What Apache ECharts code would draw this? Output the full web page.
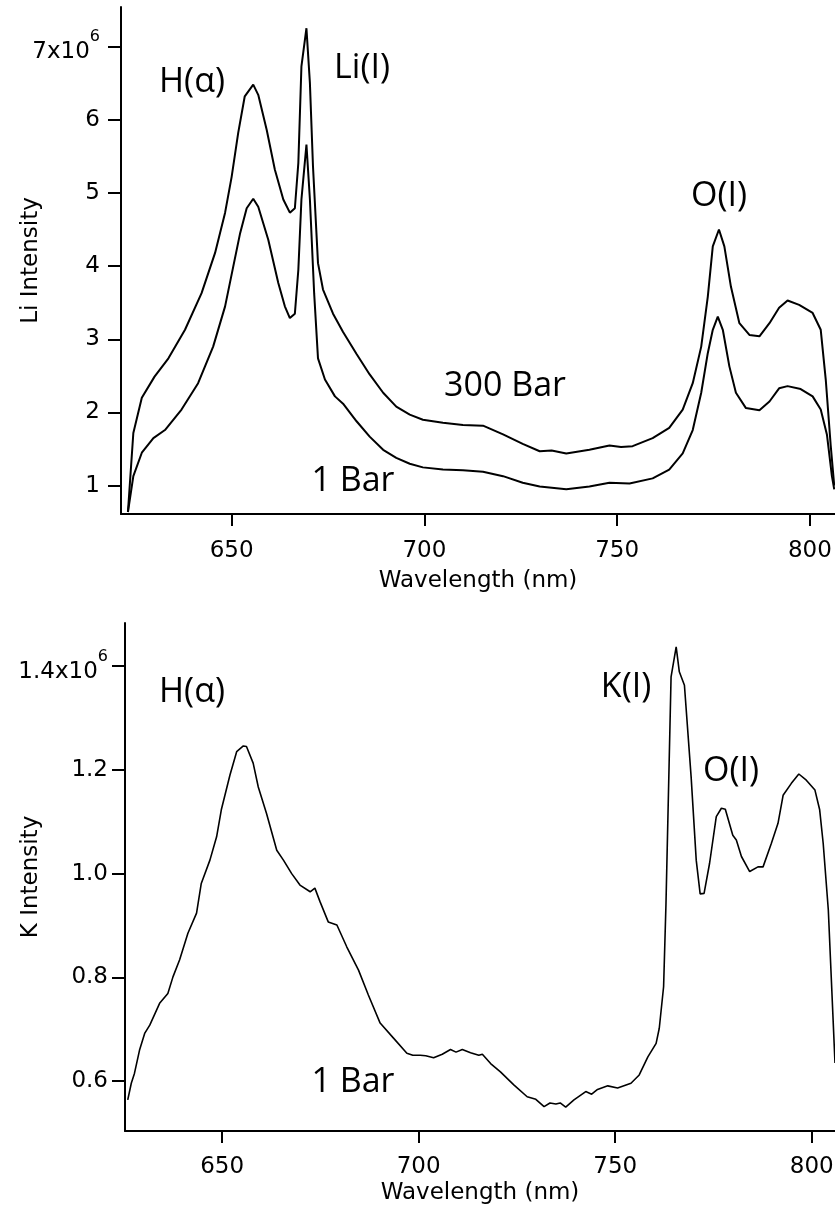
<!DOCTYPE html>
<html>
<head>
<meta charset="utf-8">
<script src="https://cdn.jsdelivr.net/npm/echarts@6/dist/echarts.min.js"></script>
<style>html,body{margin:0;padding:0;background:#fff}#c{width:835px;height:1207px}</style>
</head>
<body>
<div id="c"></div>
<script>
// ---- Top panel: Li intensity (units of 10^6) ----
var li300Wl = [623.1,624.5,626.7,630.0,633.6,637.9,642.2,645.7,648.3,650.0,651.7,653.4,655.6,656.9,659.1,661.2,663.4,665.1,666.4,667.3,668.1,669.4,670.3,671.1,672.4,673.7,676.3,678.9,682.4,685.8,689.3,692.7,696.2,699.6,704.8,710.0,715.2,720.4,725.5,729.9,733.0,736.8,742.8,748.0,751.0,754.0,759.2,763.5,767.0,769.6,771.8,773.5,774.8,776.4,777.8,779.5,781.7,784.3,786.9,789.5,792.0,794.2,797.2,800.7,802.8,804.1,805.4,806.3];
var li300Val = [0.64,1.72,2.20,2.49,2.74,3.13,3.63,4.18,4.73,5.22,5.82,6.32,6.48,6.34,5.86,5.32,4.91,4.73,4.79,5.41,6.73,7.25,6.50,5.36,4.04,3.68,3.35,3.10,2.80,2.52,2.27,2.08,1.97,1.90,1.86,1.83,1.82,1.70,1.57,1.47,1.48,1.44,1.49,1.55,1.53,1.54,1.65,1.79,2.04,2.40,2.90,3.58,4.27,4.50,4.27,3.72,3.22,3.06,3.04,3.22,3.43,3.53,3.47,3.36,3.13,2.45,1.54,1.00];
var li1Wl = [623.1,624.5,626.7,629.7,632.7,637.0,641.3,645.2,648.3,650.4,652.2,653.9,655.6,656.9,659.5,662.1,663.8,665.1,666.4,667.3,668.1,669.4,670.3,671.4,672.4,674.2,676.8,678.9,682.4,685.8,689.3,692.7,696.2,699.6,704.8,710.0,715.2,720.4,725.5,729.9,736.8,742.8,748.0,753.2,759.2,763.5,767.0,769.6,771.8,773.5,774.8,776.1,777.4,779.1,780.8,783.4,786.9,789.5,792.0,794.2,797.6,800.7,802.8,804.4,805.7,806.3];
var li1Val = [0.64,1.13,1.45,1.65,1.76,2.04,2.40,2.90,3.45,3.99,4.45,4.79,4.92,4.81,4.36,3.77,3.45,3.29,3.35,3.95,4.91,5.66,4.91,3.63,2.74,2.45,2.22,2.12,1.88,1.67,1.49,1.38,1.30,1.25,1.22,1.21,1.19,1.13,1.04,0.99,0.95,0.99,1.04,1.03,1.10,1.22,1.44,1.76,2.27,2.81,3.13,3.31,3.13,2.63,2.27,2.06,2.03,2.15,2.33,2.36,2.32,2.22,2.04,1.70,1.13,0.95];

// ---- Bottom panel: K intensity (units of 10^6) ----
var kWl = [626.0,626.9,627.7,629.0,630.3,631.6,634.1,636.2,637.5,639.2,641.3,643.5,644.7,646.9,648.6,649.8,652.0,653.7,655.4,656.2,657.9,659.2,661.3,663.9,665.6,667.7,669.8,672.4,673.6,674.9,677.0,679.2,681.7,684.7,687.2,690.2,693.6,697.0,698.5,700.4,701.8,703.8,706.0,708.1,709.5,711.1,713.2,715.3,716.2,718.3,720.8,724.2,727.6,729.8,731.9,733.4,734.9,736.0,737.4,739.5,742.5,744.0,745.5,748.1,750.6,754.0,756.1,758.3,760.4,761.2,762.3,762.9,764.2,765.5,766.3,767.6,769.3,770.6,771.6,772.6,774.0,775.7,777.0,778.0,779.9,780.8,782.1,784.2,786.3,787.6,789.7,791.4,792.7,794.8,796.7,798.6,800.8,802.0,802.9,804.2,805.9];
var kVal = [0.564,0.596,0.615,0.660,0.692,0.708,0.750,0.769,0.801,0.834,0.885,0.924,0.981,1.026,1.071,1.123,1.190,1.235,1.246,1.245,1.213,1.167,1.116,1.045,1.026,1.000,0.978,0.965,0.972,0.946,0.907,0.901,0.859,0.814,0.766,0.712,0.683,0.654,0.650,0.650,0.649,0.645,0.652,0.661,0.656,0.661,0.655,0.650,0.652,0.634,0.618,0.593,0.570,0.565,0.551,0.558,0.556,0.558,0.550,0.564,0.580,0.575,0.584,0.591,0.587,0.596,0.612,0.647,0.673,0.702,0.782,0.940,1.379,1.437,1.389,1.363,1.187,1.026,0.961,0.962,1.020,1.110,1.126,1.124,1.074,1.065,1.033,1.004,1.013,1.013,1.058,1.097,1.151,1.174,1.192,1.180,1.161,1.123,1.058,0.930,0.635];

// ---- Ticks and texts ----
var xTicks = [650, 700, 750, 800];
var liTicks = [1, 2, 3, 4, 5, 6, 7];
var kTicks = [0.6, 0.8, 1.0, 1.2, 1.4];
var xName = 'Wavelength (nm)';
var liName = 'Li Intensity';
var kName = 'K Intensity';
var topNotes = ['H(\u03B1)', 'Li(I)', 'O(I)', '300 Bar', '1 Bar'];
var botNotes = ['H(\u03B1)', 'K(I)', 'O(I)', '1 Bar'];

function zip(a, b) { return a.map(function (v, i) { return [v, b[i]]; }); }

var FONT = 'DejaVu Sans';
var FS = 23;

function xAxisCfg(idx, min, max, gap, margin) {
  return {
    type: 'value', gridIndex: idx, min: min, max: max,
    name: xName, nameLocation: 'middle', nameGap: gap, nameMoveOverlap: false,
    nameTextStyle: { fontFamily: FONT, fontSize: FS, color: '#000' },
    axisLine: { show: true, lineStyle: { color: '#000', width: 2 } },
    axisTick: { show: true, length: 12, lineStyle: { color: '#000', width: 2 }, customValues: xTicks },
    axisLabel: { fontFamily: FONT, fontSize: FS, color: '#000', margin: margin, customValues: xTicks },
    splitLine: { show: false }
  };
}
function yAxisCfg(idx, min, max, ticks, name, gap, margin, top, fmt) {
  return {
    type: 'value', gridIndex: idx, min: min, max: max,
    name: name, nameLocation: 'middle', nameGap: gap, nameMoveOverlap: false,
    nameTextStyle: { fontFamily: FONT, fontSize: FS, color: '#000' },
    axisLine: { show: true, lineStyle: { color: '#000', width: 2 } },
    axisTick: { show: true, length: 13, lineStyle: { color: '#000', width: 2 }, customValues: ticks },
    axisLabel: {
      fontFamily: FONT, fontSize: FS, color: '#000', margin: margin, customValues: ticks,
      formatter: function (v) {
        if (Math.abs(v - top) < 1e-9) return '{m|' + fmt(v) + 'x10}{s|6}';
        return fmt(v);
      },
      rich: {
        m: { fontFamily: FONT, fontSize: FS, color: '#000', padding: [12, 0, 0, 0] },
        s: { fontFamily: FONT, fontSize: 16, color: '#000', padding: [0, 0, 19, 0] }
      }
    },
    splitLine: { show: false }
  };
}

var chart = echarts.init(document.getElementById('c'), null, { renderer: 'canvas' });
var lineStyle = { color: '#000', width: 2 };

function note(text, x, y) {
  return { type: 'text', x: x, y: y, style: { text: text, fontSize: 34, fontFamily: 'Open Sans', fill: '#000', align: 'center', verticalAlign: 'middle' } };
}

chart.setOption({
  animation: false,
  backgroundColor: '#fff',
  grid: [
    { left: 121, top: 7, right: 0, height: 507, outerBoundsMode: 'none' },
    { left: 125, top: 623, right: 0, height: 508, outerBoundsMode: 'none' }
  ],
  xAxis: [
    xAxisCfg(0, 621.3, 806.5, 56, 26),
    xAxisCfg(1, 625.3, 805.9, 51, 25)
  ],
  yAxis: [
    yAxisCfg(0, 0.613, 7.54, liTicks, liName, 78, 21, 7, function (v) { return String(v); }),
    yAxisCfg(1, 0.504, 1.483, kTicks, kName, 82, 17, 1.4, function (v) { return v.toFixed(1); })
  ],
  series: [
    { type: 'line', xAxisIndex: 0, yAxisIndex: 0, data: zip(li300Wl, li300Val), showSymbol: false, symbol: 'none', lineStyle: lineStyle, clip: true },
    { type: 'line', xAxisIndex: 0, yAxisIndex: 0, data: zip(li1Wl, li1Val), showSymbol: false, symbol: 'none', lineStyle: lineStyle, clip: true },
    { type: 'line', xAxisIndex: 1, yAxisIndex: 1, data: zip(kWl, kVal), showSymbol: false, symbol: 'none', lineStyle: { color: '#000', width: 1.6 }, clip: true }
  ],
  graphic: [
    note(topNotes[0], 192, 82),
    note(topNotes[1], 362, 68),
    note(topNotes[2], 719, 196),
    note(topNotes[3], 505, 386),
    note(topNotes[4], 353, 481),
    note(botNotes[0], 192, 692),
    note(botNotes[1], 626, 687),
    note(botNotes[2], 731, 771),
    note(botNotes[3], 353, 1082)
  ]
});
</script>
</body>
</html>
